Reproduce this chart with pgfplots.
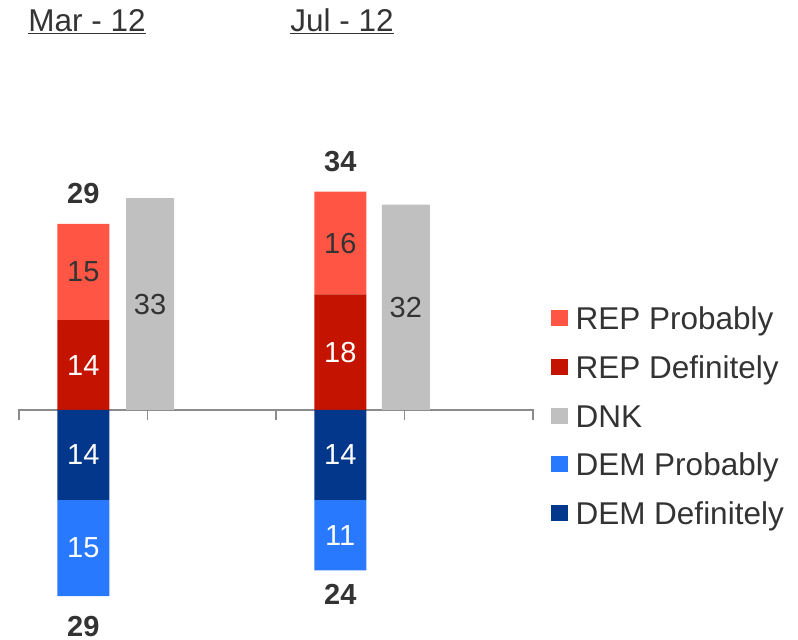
\documentclass[border=0pt]{standalone}
\usepackage{pgfplots}
\pgfplotsset{compat=1.18}
\usepackage{fontspec}
\setmainfont{Liberation Sans}
\definecolor{repP}{RGB}{255,85,69}
\definecolor{repD}{RGB}{196,20,0}
\definecolor{dnk}{RGB}{192,192,192}
\definecolor{demP}{RGB}{41,121,255}
\definecolor{demD}{RGB}{2,55,139}
\definecolor{txt}{RGB}{51,51,51}
\definecolor{axgray}{RGB}{140,140,140}
\newcommand\chartfont{\fontsize{29pt}{34pt}\selectfont}
\newcommand\legfont{\fontsize{31.5pt}{37pt}\selectfont}
\pgfplotsset{
  base/.style={
    at={(0pt,0pt)}, anchor=south west, scale only axis,
    x=128.5pt, y=6.42pt,
    xmin=-0.148, xmax=6.062, ymin=-35.826, ymax=63.863,
    hide axis, clip=false,
  },
  inlab/.style={
    point meta=explicit symbolic,
    nodes near coords={\pgfplotspointmeta},
    every node near coord/.append style={font=\chartfont, anchor=center, inner sep=0pt},
  },
}
\begin{document}
\begin{tikzpicture}
\path (0pt,0pt) rectangle (798pt,640pt);
% axis line, titles, legend, totals
\begin{axis}[base,
  legend image code/.code={\fill[#1] (0pt,-4pt) rectangle (16.5pt,12pt);},
  legend style={at={(0.6905,0.5172)}, anchor=north west, draw=none, fill=none,
    inner sep=0pt, outer sep=0pt, row sep=21.6pt, font=\legfont, text=txt,
    nodes={inner ysep=0pt, inner xsep=8pt, text height=21pt, text depth=6pt}},
  legend cell align=left]
\addlegendimage{fill=repP, draw=none}
\addlegendentry{REP Probably}
\addlegendimage{fill=repD, draw=none}
\addlegendentry{REP Definitely}
\addlegendimage{fill=dnk, draw=none}
\addlegendentry{DNK}
\addlegendimage{fill=demP, draw=none}
\addlegendentry{DEM Probably}
\addlegendimage{fill=demD, draw=none}
\addlegendentry{DEM Definitely}
\draw[axgray, line width=1.5pt] (axis cs:0,-1.56) -- (axis cs:0,0) -- (axis cs:4,0) -- (axis cs:4,-1.56);
\draw[axgray, line width=1.5pt] (axis cs:1,0) -- (axis cs:1,-1.56);
\draw[axgray, line width=1.5pt] (axis cs:2,0) -- (axis cs:2,-1.56);
\draw[axgray, line width=1.5pt] (axis cs:3,0) -- (axis cs:3,-1.56);
\node[anchor=base, text=txt, font=\legfont, inner sep=0pt] at (axis cs:0.529,58.88) {\underline{Mar - 12}};
\node[anchor=base, text=txt, font=\legfont, inner sep=0pt] at (axis cs:2.514,58.88) {\underline{Jul - 12}};
% totals
\addplot[forget plot, draw=none, mark=none, point meta=explicit symbolic, nodes near coords={\pgfplotspointmeta},
  every node near coord/.append style={font=\chartfont\bfseries, text=txt, anchor=center, inner sep=0pt, yshift=30pt}]
  coordinates {(0.5,29)[29] (2.5,34)[34]};
\addplot[forget plot, draw=none, mark=none, point meta=explicit symbolic, nodes near coords={\pgfplotspointmeta},
  every node near coord/.append style={font=\chartfont\bfseries, text=txt, anchor=center, inner sep=0pt, yshift=-30pt}]
  coordinates {(0.5,-29)[29] (2.5,-24)[24]};
\end{axis}
% DNK
\begin{axis}[base, ybar, bar shift=0pt, bar width=48pt, inlab, visualization depends on=rawy\as\rawy]
\addplot[fill=dnk, draw=none, every node near coord/.append style={text=txt, yshift={-0.5*\rawy*6.42pt}}] coordinates {(1.02,33)[33] (3.01,32)[32]};
\end{axis}
% REP stacks
\begin{axis}[base, ybar stacked, bar width=52pt, inlab]
\addplot[fill=repD, draw=none, every node near coord/.append style={text=white}] coordinates {(0.5,14)[14] (2.5,18)[18]};
\addplot[fill=repP, draw=none, every node near coord/.append style={text=txt}] coordinates {(0.5,15)[15] (2.5,16)[16]};
\end{axis}
% DEM stacks
\begin{axis}[base, ybar stacked, bar width=52pt, inlab]
\addplot[fill=demD, draw=none, every node near coord/.append style={text=white}] coordinates {(0.5,-14)[14] (2.5,-14)[14]};
\addplot[fill=demP, draw=none, every node near coord/.append style={text=white}] coordinates {(0.5,-15)[15] (2.5,-11)[11]};
\end{axis}
\end{tikzpicture}
\end{document}
